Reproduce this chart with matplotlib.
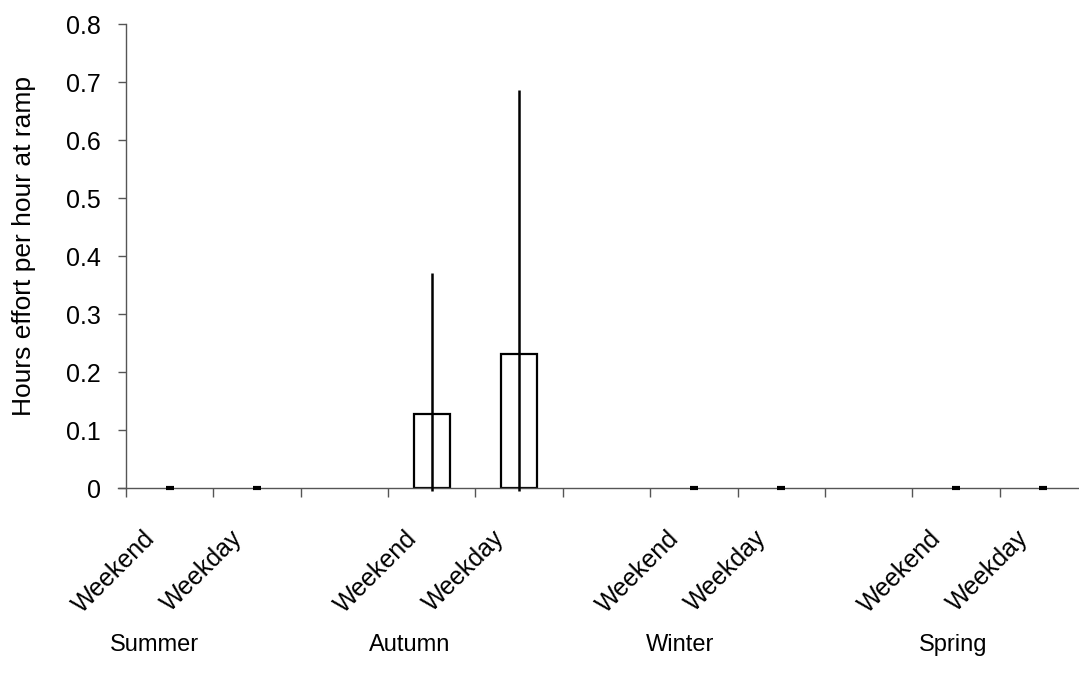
import numpy as np
import matplotlib
matplotlib.use('Agg')
import matplotlib.pyplot as plt

# ------------------------
# data
# ------------------------

seasons = ['Summer', 'Autumn', 'Winter', 'Spring']
day_types = ['Weekend', 'Weekday']

# mean effort (hours per hour at ramp) for each season x day type
effort_mean = [0.0, 0.0, 0.128, 0.231, 0.0, 0.0, 0.0, 0.0]
# upper end of the error bars
effort_upper = [0.0, 0.0, 0.371, 0.686, 0.0, 0.0, 0.0, 0.0]
# lower end of the error bars (runs just under the axis)
effort_lower = [0.0, 0.0, -0.006, -0.006, 0.0, 0.0, 0.0, 0.0]

# position of the season names along the axis (slot units)
season_label_x = [-0.17, 2.75, 5.84, 8.97]

# ------------------------

plt.rcParams['font.family'] = ['Liberation Sans', 'DejaVu Sans']
FS = 18

# two slots per season with an empty slot between seasons
pos = []
for i in range(len(seasons)):
    pos += [3 * i, 3 * i + 1]
pos = np.array(pos)

fig = plt.figure(figsize=(10.79, 6.88), dpi=100)
ax = fig.add_axes([126 / 1079, 200 / 688, 961 / 1079, 464 / 688])

mean = np.array(effort_mean)
has_data = mean > 0

ax.bar(pos[has_data], mean[has_data], width=0.41, facecolor='white',
       edgecolor='black', linewidth=1.6, zorder=2)
ax.vlines(pos[has_data], np.array(effort_lower)[has_data],
          np.array(effort_upper)[has_data], color='black', linewidth=1.8,
          zorder=3, clip_on=False)

# zero values show up as a short stub on the axis
ax.plot(pos[~has_data], mean[~has_data], linestyle='none', marker='_',
        markersize=6, markeredgewidth=3, color='black', zorder=4, clip_on=False)

ax.set_xlim(-0.5, 10.5)
ax.set_ylim(0, 0.8)
ax.set_yticks(np.arange(0, 0.81, 0.1))
ax.set_yticklabels(['0'] + ['%.1f' % v for v in np.arange(0.1, 0.81, 0.1)])

# ticks sit on slot boundaries, labels under slot centres
ax.set_xticks(np.arange(-0.5, 10.6, 1.0))
ax.set_xticklabels([])
for p, lab in zip(pos, day_types * len(seasons)):
    ax.text(p - 0.21, -0.08, lab, rotation=45, rotation_mode='anchor',
            ha='right', va='center', fontsize=FS)

for x, s in zip(season_label_x, seasons):
    ax.text(x, -0.27, s, ha='center', va='center', fontsize=17)

for side in ['top', 'right']:
    ax.spines[side].set_visible(False)
for side in ['left', 'bottom']:
    ax.spines[side].set_color('#555555')
    ax.spines[side].set_linewidth(1.0)
# x axis line pokes out a little left of the y axis
ax.spines['bottom'].set_bounds(-0.59, 10.5)

ax.tick_params(axis='y', direction='out', length=6, width=1, color='#555555',
               labelsize=FS, pad=12)
ax.tick_params(axis='x', direction='out', length=6.5, width=1, color='#555555')

ax.set_ylabel('Hours effort per hour at ramp', fontsize=19)
ax.yaxis.set_label_coords(-0.094, 0.522)

fig.savefig('out.png', dpi=100)
